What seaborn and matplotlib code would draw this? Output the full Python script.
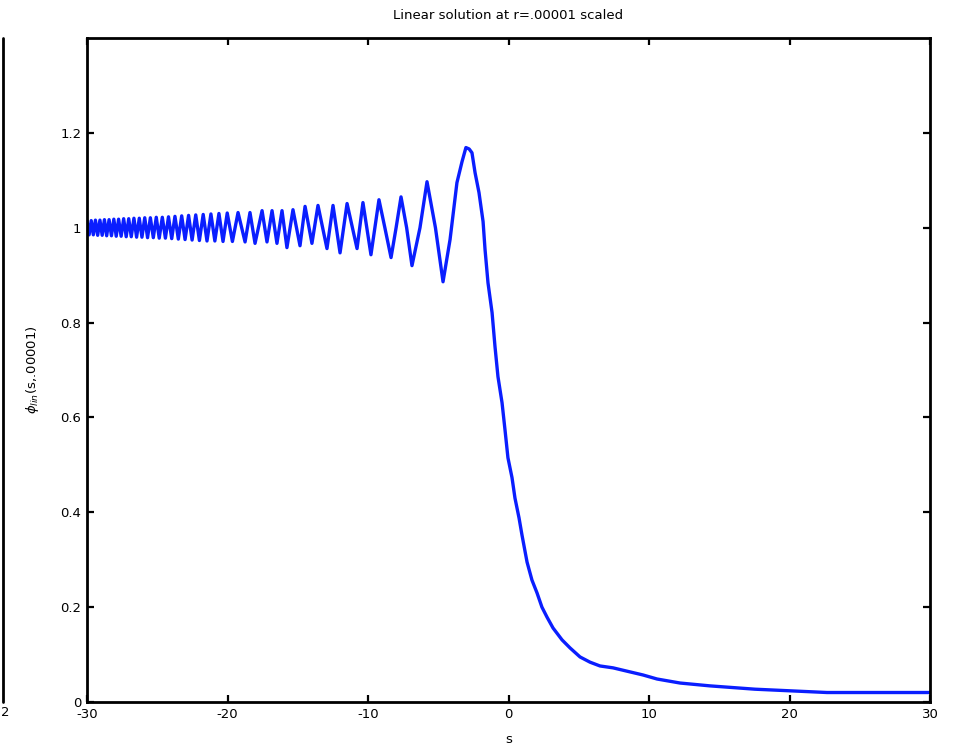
import matplotlib
matplotlib.use("Agg")
import matplotlib.pyplot as plt
import seaborn as sns
import pandas as pd
from matplotlib.lines import Line2D

# ---- data ----
s_osc_left = [-30.0, -29.85, -29.7, -29.55, -29.4, -29.24, -29.08, -28.92, -28.76, -28.6,
              -28.43, -28.26, -28.09, -27.92, -27.75, -27.57, -27.39, -27.21, -27.03, -26.85,
              -26.66, -26.47, -26.28, -26.09, -25.89, -25.69, -25.49, -25.28, -25.07, -24.86,
              -24.64, -24.42, -24.2, -23.97, -23.74, -23.5, -23.26, -23.02, -22.77, -22.52,
              -22.26, -22.0, -21.73, -21.46, -21.18, -20.9, -20.61, -20.32, -20.02, -19.65]
phi_osc_left = [1.015, 0.985, 1.015, 0.985, 1.016, 0.984, 1.016, 0.984, 1.017, 0.983,
                1.017, 0.983, 1.018, 0.982, 1.018, 0.982, 1.019, 0.981, 1.019, 0.981,
                1.020, 0.980, 1.020, 0.980, 1.021, 0.979, 1.021, 0.979, 1.022, 0.978,
                1.022, 0.978, 1.023, 0.977, 1.024, 0.976, 1.025, 0.975, 1.026, 0.974,
                1.027, 0.973, 1.028, 0.972, 1.029, 0.972, 1.030, 0.971, 1.031, 0.971]

s_osc_mid = [-19.25, -18.75, -18.40, -18.04, -17.54, -17.19, -16.83, -16.48, -16.12, -15.77,
             -15.34, -14.84, -14.48, -13.99, -13.56, -12.92, -12.49, -11.99, -11.49, -10.78,
             -10.36, -9.79, -9.22, -8.8, -8.36, -8.0, -7.65, -7.25, -6.87, -6.3,
             -5.80, -5.2, -4.66, -4.16, -3.67, -3.31, -3.03]
phi_osc_mid = [1.032, 0.970, 1.032, 0.967, 1.036, 0.970, 1.036, 0.967, 1.036, 0.958,
               1.038, 0.962, 1.045, 0.967, 1.047, 0.956, 1.047, 0.947, 1.051, 0.956,
               1.053, 0.943, 1.059, 1.0, 0.937, 1.0, 1.065, 1.0, 0.920, 1.0,
               1.097, 1.0, 0.886, 0.975, 1.095, 1.139, 1.169]

s_decay = [-2.80, -2.60, -2.38, -2.10, -1.81, -1.67, -1.46, -1.17, -0.96, -0.75, -0.46, -0.25,
           -0.04, 0.25, 0.46, 0.75, 0.96, 1.32, 1.67, 2.03, 2.38, 2.74, 3.17, 3.81, 4.38,
           5.09, 5.80, 6.51, 7.44, 8.43, 9.57, 10.57, 12.21, 14.34, 17.54, 22.67, 30.0]
phi_decay = [1.166, 1.158, 1.116, 1.074, 1.013, 0.954, 0.884, 0.821, 0.749, 0.686, 0.631, 0.574,
             0.515, 0.473, 0.430, 0.388, 0.352, 0.295, 0.257, 0.230, 0.200, 0.179, 0.156, 0.131, 0.114,
             0.095, 0.084, 0.076, 0.072, 0.065, 0.057, 0.0485, 0.040, 0.034, 0.027, 0.020, 0.020]

x_ticks = [-30, -20, -10, 0, 10, 20, 30]
y_ticks = [0, 0.2, 0.4, 0.6, 0.8, 1.0, 1.2]
y_tick_labels = ["0", "0.2", "0.4", "0.6", "0.8", "1", "1.2"]

title = "Linear solution at r=.00001 scaled"
x_label = "s"
y_label = r"$\phi_{lin}$(s,.00001)"

df = pd.DataFrame({
    "s": s_osc_left + s_osc_mid + s_decay,
    "phi": phi_osc_left + phi_osc_mid + phi_decay,
})

sns.set_style("white")
plt.rcParams["font.family"] = ["DejaVu Sans"]
plt.rcParams["mathtext.fontset"] = "dejavusans"
plt.rcParams["text.color"] = "black"
plt.rcParams["axes.labelcolor"] = "black"

FS = 9.5
fig = plt.figure(figsize=(9.58, 7.5), dpi=100)
ax = fig.add_axes([87 / 958, 48 / 750, (930 - 87) / 958, (702 - 38) / 750])

sns.lineplot(data=df, x="s", y="phi", sort=False, estimator=None, ax=ax,
             color="#0a1eff", linewidth=2.4)

ax.set_xlim(-30, 30)
ax.set_ylim(0, 1.4)
ax.set_xticks(x_ticks)
ax.set_xticklabels([str(t) for t in x_ticks])
ax.set_yticks(y_ticks)
ax.set_yticklabels(y_tick_labels)
ax.tick_params(direction="in", length=5, width=1.6, top=True, right=True,
               bottom=True, left=True, labelsize=FS, colors="black", pad=4)
for sp in ax.spines.values():
    sp.set_visible(True)
    sp.set_color("black")
    sp.set_linewidth(2.0)

ax.set_title(title, fontsize=FS, pad=14, color="black")
ax.set_xlabel(x_label, fontsize=FS, labelpad=9, color="black")
ax.set_ylabel(y_label, fontsize=FS, labelpad=14, color="black")

# remnant of the neighbouring subplot at the left edge
fig.add_artist(Line2D([2.5 / 958, 2.5 / 958], [48 / 750, (750 - 38) / 750],
                      color="black", linewidth=2.0))
fig.text(0.5 / 958, (750 - 712) / 750, "2", fontsize=FS, ha="left", va="center")

fig.savefig("out.png", dpi=100)
